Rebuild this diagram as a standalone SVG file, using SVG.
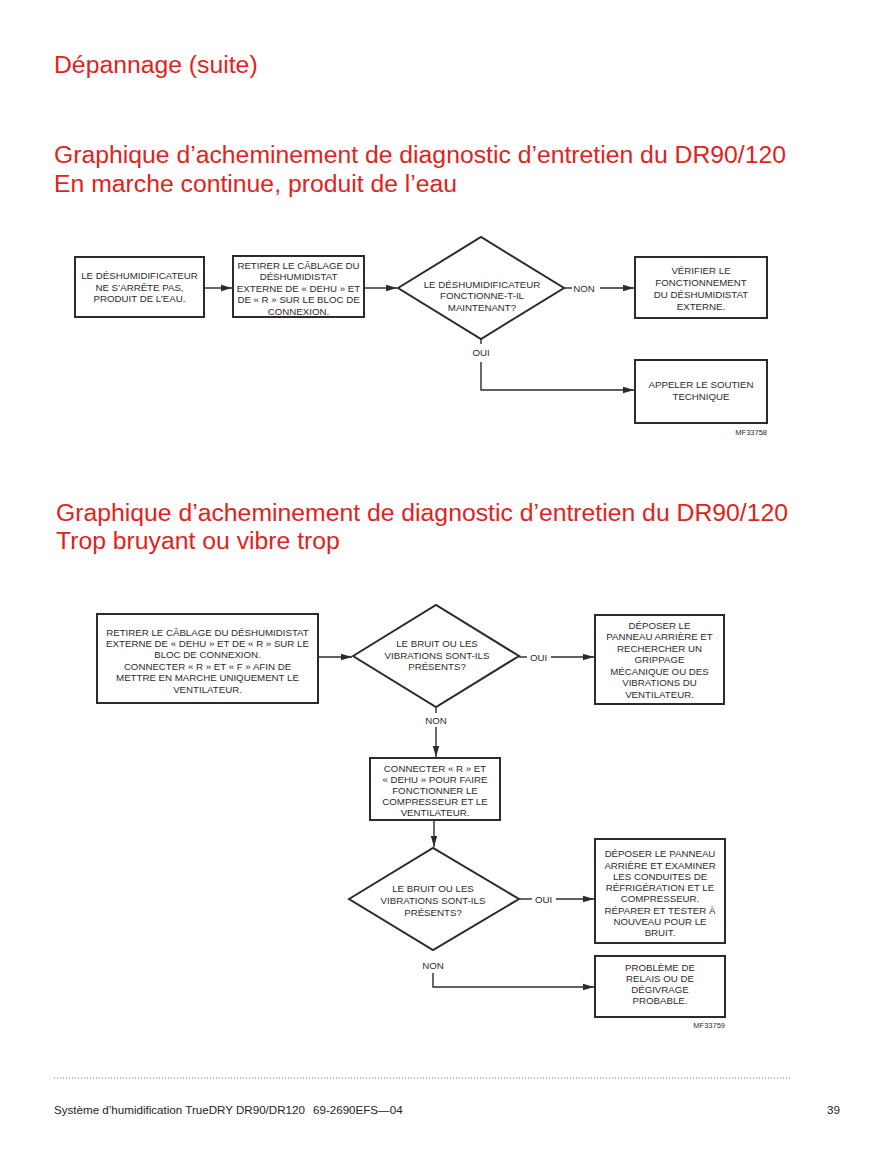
<svg xmlns="http://www.w3.org/2000/svg" width="892" height="1155" viewBox="0 0 892 1155">
<defs>
<style>
.title{font-family:"Liberation Sans",Arial,sans-serif;font-size:24.75px;fill:#e0231c}
.box{fill:#fff;stroke:#2b2b2b;stroke-width:2}
.t{font-family:"Liberation Sans",Arial,sans-serif;font-size:9.7px;fill:#2b2b2b;text-anchor:middle}
.lbl{font-family:"Liberation Sans",Arial,sans-serif;font-size:9.7px;fill:#2b2b2b;text-anchor:middle}
.ref{font-family:"Liberation Sans",Arial,sans-serif;font-size:7.5px;fill:#2b2b2b;text-anchor:end}
.foot{font-family:"Liberation Sans",Arial,sans-serif;font-size:11.6px;fill:#222}
.c{fill:none;stroke:#2b2b2b;stroke-width:1.4}
</style>
<marker id="ah" markerUnits="userSpaceOnUse" markerWidth="12" markerHeight="8" refX="11" refY="4" orient="auto">
<path d="M0,0.8 L11,4 L0,7.2 Z" fill="#2b2b2b"/>
</marker>
</defs>
<rect width="892" height="1155" fill="#fff"/>

<text class="title" x="54" y="73">Dépannage (suite)</text>
<text class="title" x="54" y="163">Graphique d’acheminement de diagnostic d’entretien du DR90/120</text>
<text class="title" x="54" y="192">En marche continue, produit de l’eau</text>

<g id="connectors1">
<line class="c" x1="205" y1="288" x2="232" y2="288" marker-end="url(#ah)"/>
<line class="c" x1="365" y1="288" x2="397" y2="288" marker-end="url(#ah)"/>
<line class="c" x1="564" y1="288" x2="572" y2="288"/>
<text class="lbl" x="584" y="292">NON</text>
<line class="c" x1="600" y1="288" x2="634" y2="288" marker-end="url(#ah)"/>
<line class="c" x1="481" y1="339" x2="481" y2="344"/>
<text class="lbl" x="481" y="356">OUI</text>
<polyline class="c" points="481,362 481,390 634,390" marker-end="url(#ah)"/>
</g>

<g id="n1">
<rect class="box" x="75" y="257" width="129" height="60"/>
<text class="t" x="139.5" y="279">LE DÉSHUMIDIFICATEUR</text>
<text class="t" x="139.5" y="291">NE S’ARRÊTE PAS,</text>
<text class="t" x="139.5" y="302">PRODUIT DE L’EAU.</text>
</g>
<g id="n2">
<rect class="box" x="233" y="256" width="131" height="61"/>
<text class="t" x="298.5" y="268.5">RETIRER LE CÂBLAGE DU</text>
<text class="t" x="298.5" y="280">DÉSHUMIDISTAT</text>
<text class="t" x="298.5" y="291.5">EXTERNE DE « DEHU » ET</text>
<text class="t" x="298.5" y="303">DE « R » SUR LE BLOC DE</text>
<text class="t" x="298.5" y="314.5">CONNEXION.</text>
</g>
<g id="n3">
<polygon class="box" points="398,288 481,237 564,288 481,339"/>
<text class="t" x="482" y="287.5">LE DÉSHUMIDIFICATEUR</text>
<text class="t" x="482" y="299">FONCTIONNE-T-IL</text>
<text class="t" x="482" y="310.5">MAINTENANT?</text>
</g>
<g id="n4">
<rect class="box" x="635" y="257" width="132" height="61"/>
<text class="t" x="701" y="274">VÉRIFIER LE</text>
<text class="t" x="701" y="286">FONCTIONNEMENT</text>
<text class="t" x="701" y="298">DU DÉSHUMIDISTAT</text>
<text class="t" x="701" y="309.5">EXTERNE.</text>
</g>
<g id="n5">
<rect class="box" x="635" y="360" width="132" height="63"/>
<text class="t" x="701" y="388">APPELER LE SOUTIEN</text>
<text class="t" x="701" y="399.5">TECHNIQUE</text>
</g>
<text class="ref" x="767" y="435">MF33758</text>

<text class="title" x="56" y="521">Graphique d’acheminement de diagnostic d’entretien du DR90/120</text>
<text class="title" x="56" y="549">Trop bruyant ou vibre trop</text>

<g id="connectors2">
<line class="c" x1="319" y1="657" x2="352" y2="657" marker-end="url(#ah)"/>
<line class="c" x1="519" y1="657" x2="527" y2="657"/>
<text class="lbl" x="538.5" y="660.5">OUI</text>
<line class="c" x1="551" y1="657" x2="594" y2="657" marker-end="url(#ah)"/>
<line class="c" x1="436" y1="707" x2="436" y2="713"/>
<text class="lbl" x="436" y="724">NON</text>
<line class="c" x1="436" y1="727" x2="436" y2="757" marker-end="url(#ah)"/>
<line class="c" x1="434" y1="821" x2="434" y2="847" marker-end="url(#ah)"/>
<line class="c" x1="519" y1="899" x2="532" y2="899"/>
<text class="lbl" x="543.5" y="903">OUI</text>
<line class="c" x1="556" y1="899" x2="594" y2="899" marker-end="url(#ah)"/>
<text class="lbl" x="433" y="969">NON</text>
<polyline class="c" points="433,973 433,987 594,987" marker-end="url(#ah)"/>
</g>

<g id="n6">
<rect class="box" x="97" y="614" width="221" height="89"/>
<text class="t" x="207.5" y="635.5">RETIRER LE CÂBLAGE DU DÉSHUMIDISTAT</text>
<text class="t" x="207.5" y="647">EXTERNE DE « DEHU » ET DE « R » SUR LE</text>
<text class="t" x="207.5" y="658">BLOC DE CONNEXION.</text>
<text class="t" x="207.5" y="669.5">CONNECTER « R » ET « F » AFIN DE</text>
<text class="t" x="207.5" y="681">METTRE EN MARCHE UNIQUEMENT LE</text>
<text class="t" x="207.5" y="692.5">VENTILATEUR.</text>
</g>
<g id="n7">
<polygon class="box" points="353,656 436,605 519,656 436,707"/>
<text class="t" x="437" y="646.5">LE BRUIT OU LES</text>
<text class="t" x="437" y="658.5">VIBRATIONS SONT-ILS</text>
<text class="t" x="437" y="670">PRÉSENTS?</text>
</g>
<g id="n8">
<rect class="box" x="595" y="615" width="129" height="89"/>
<text class="t" x="659.5" y="628.5">DÉPOSER LE</text>
<text class="t" x="659.5" y="640">PANNEAU ARRIÈRE ET</text>
<text class="t" x="659.5" y="651.5">RECHERCHER UN</text>
<text class="t" x="659.5" y="663">GRIPPAGE</text>
<text class="t" x="659.5" y="674.5">MÉCANIQUE OU DES</text>
<text class="t" x="659.5" y="686">VIBRATIONS DU</text>
<text class="t" x="659.5" y="697.5">VENTILATEUR.</text>
</g>
<g id="n9">
<rect class="box" x="370" y="758" width="130" height="62"/>
<text class="t" x="435" y="771.5">CONNECTER « R » ET</text>
<text class="t" x="435" y="782.5">« DEHU » POUR FAIRE</text>
<text class="t" x="435" y="793.5">FONCTIONNER LE</text>
<text class="t" x="435" y="804.5">COMPRESSEUR ET LE</text>
<text class="t" x="435" y="815.5">VENTILATEUR.</text>
</g>
<g id="n10">
<polygon class="box" points="349,899 433,848 519,899 433,950"/>
<text class="t" x="433" y="891.5">LE BRUIT OU LES</text>
<text class="t" x="433" y="903.5">VIBRATIONS SONT-ILS</text>
<text class="t" x="433" y="915.5">PRÉSENTS?</text>
</g>
<g id="n11">
<rect class="box" x="595" y="839" width="130" height="104"/>
<text class="t" x="660" y="857">DÉPOSER LE PANNEAU</text>
<text class="t" x="660" y="868.5">ARRIÈRE ET EXAMINER</text>
<text class="t" x="660" y="880">LES CONDUITES DE</text>
<text class="t" x="660" y="891">RÉFRIGÉRATION ET LE</text>
<text class="t" x="660" y="902">COMPRESSEUR.</text>
<text class="t" x="660" y="913.5">RÉPARER ET TESTER À</text>
<text class="t" x="660" y="924.5">NOUVEAU POUR LE</text>
<text class="t" x="660" y="935.5">BRUIT.</text>
</g>
<g id="n12">
<rect class="box" x="595" y="956" width="130" height="61"/>
<text class="t" x="660" y="970.5">PROBLÈME DE</text>
<text class="t" x="660" y="981.5">RELAIS OU DE</text>
<text class="t" x="660" y="992.5">DÉGIVRAGE</text>
<text class="t" x="660" y="1004">PROBABLE.</text>
</g>
<text class="ref" x="725" y="1028">MF33759</text>

<line x1="54" y1="1078" x2="790" y2="1078" stroke="#777" stroke-width="1" stroke-dasharray="1 2"/>
<text class="foot" x="54" y="1114">Système d’humidification TrueDRY DR90/DR120</text>
<text class="foot" x="313" y="1114">69-2690EFS—04</text>
<text class="foot" x="840" y="1114" text-anchor="end">39</text>
</svg>
